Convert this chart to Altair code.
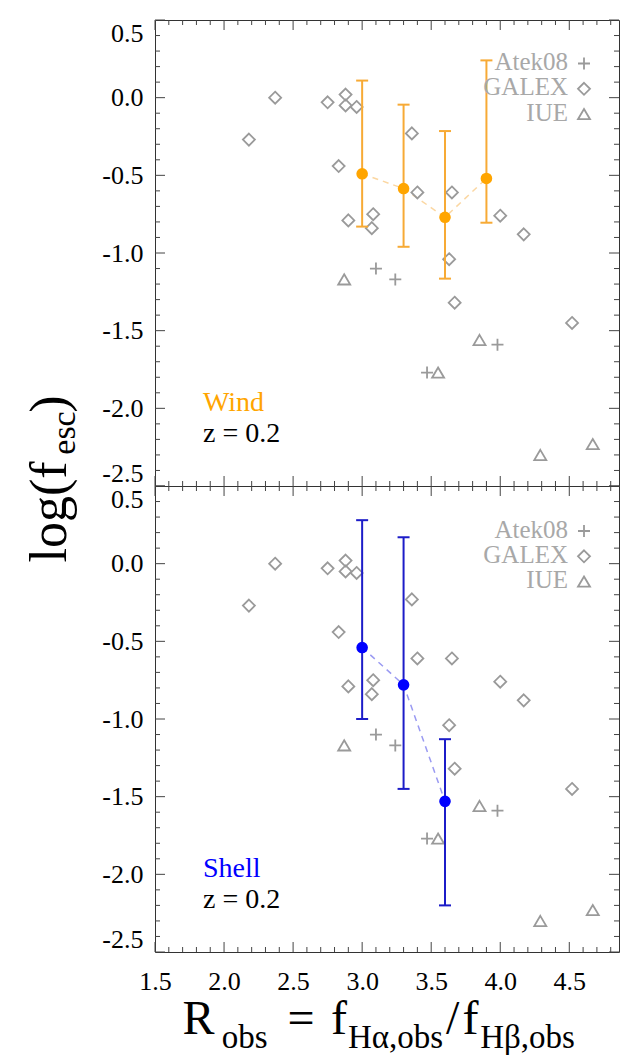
import altair as alt
import pandas as pd

# ---------------- data ----------------
galex_x = [2.18, 2.37, 2.75, 2.88, 2.88, 2.96, 2.83, 3.36, 3.40, 2.90, 3.08, 3.07, 3.65, 3.63, 3.67, 4.00, 4.17, 4.52]
galex_y = [-0.27, 0.00, -0.03, 0.02, -0.05, -0.06, -0.44, -0.23, -0.61, -0.79, -0.75, -0.84, -0.61, -1.04, -1.32, -0.76, -0.88, -1.45]
atek_x = [3.10, 3.24, 3.98, 3.47]
atek_y = [-1.10, -1.17, -1.59, -1.77]
iue_x = [2.87, 3.55, 3.85, 4.29, 4.67]
iue_y = [-1.17, -1.77, -1.56, -2.30, -2.23]

wind_x = [3.0, 3.3, 3.6, 3.9]
wind_y = [-0.49, -0.585, -0.77, -0.52]
wind_lo = [-0.83, -0.96, -1.165, -0.805]
wind_hi = [0.11, -0.045, -0.215, 0.24]

shell_x = [3.0, 3.3, 3.6]
shell_y = [-0.54, -0.78, -1.53]
shell_lo = [-1.0, -1.45, -2.20]
shell_hi = [0.28, 0.17, -1.13]

x_tick_labels = [1.5, 2.0, 2.5, 3.0, 3.5, 4.0, 4.5]
y_tick_labels = [0.5, 0.0, -0.5, -1.0, -1.5, -2.0, -2.5]
x_minor = [v / 10 for v in range(15, 49) if v % 5 != 0]
y_minor = [v / 10 for v in range(-25, 6) if v % 5 != 0]

sources = ["Atek08", "GALEX", "IUE"]
x_title_parts = ["R", "obs", "=", "f", "H\u03b1,obs", "/", "f", "H\u03b2,obs"]
y_title_parts = ["log(f", "esc", ")"]

# ---------------- styling ----------------
FONT = "Liberation Serif"
W, H = 464, 466
GRAY = "#9a9a9a"
GRAY_T = "#a8a8a8"
TICK_C = "#444444"
MAJ, MIN = 10, 5

xs = alt.Scale(domain=[1.5, 4.86], nice=False, zero=False)
ys = alt.Scale(domain=[-2.5, 0.5], nice=False, zero=False)

yaxis = alt.Axis(values=y_tick_labels, format=".1f",
                 labelExpr="replace(datum.label, '\u2212', '-')",
                 labelFlush=True, labelOverlap=False, ticks=False, tickSize=0,
                 domain=False, grid=False, labelFont=FONT, labelFontSize=26,
                 labelColor="black", labelPadding=12, title=None)
xaxis_b = alt.Axis(values=x_tick_labels, format=".1f", labelFlush=False,
                   labelOverlap=False, ticks=False, tickSize=0, domain=False,
                   grid=False, labelFont=FONT, labelFontSize=26,
                   labelColor="black", labelPadding=16, title=None)

PLUS = "M-1,0L1,0M0,-1L0,1"
DIAMOND = "M0,-1L1,0L0,1L-1,0Z"
TRI = "M0,-0.85L1,0.85L-1,0.85Z"
SHAPES = [PLUS, DIAMOND, TRI]


def X(field, axis):
    return alt.X(f"{field}:Q", scale=xs, axis=axis)


def Y(field):
    return alt.Y(f"{field}:Q", scale=ys, axis=yaxis)


def tick_layers(xaxis):
    layers = []
    for vals, L in ((x_tick_labels, MAJ), (x_minor, MIN)):
        d = pd.DataFrame({"x": vals})
        layers.append(alt.Chart(d).mark_rule(color=TICK_C, strokeWidth=1).encode(
            x=X("x", xaxis), y=alt.value(0), y2=alt.value(L)))
        layers.append(alt.Chart(d).mark_rule(color=TICK_C, strokeWidth=1).encode(
            x=X("x", xaxis), y=alt.value(H), y2=alt.value(H - L)))
    for vals, L in ((y_tick_labels, MAJ), (y_minor, MIN)):
        d = pd.DataFrame({"y": vals})
        layers.append(alt.Chart(d).mark_rule(color=TICK_C, strokeWidth=1).encode(
            y=Y("y"), x=alt.value(0), x2=alt.value(L)))
        layers.append(alt.Chart(d).mark_rule(color=TICK_C, strokeWidth=1).encode(
            y=Y("y"), x=alt.value(W), x2=alt.value(W - L)))
    return layers


def text_layer(txt, x, y, size, color, align="left", angle=0):
    return alt.Chart(pd.DataFrame({"t": [txt]})).mark_text(
        align=align, baseline="alphabetic", font=FONT, fontSize=size,
        color=color, angle=angle).encode(text="t:N", x=alt.value(x), y=alt.value(y))


def legend_layers(dy):
    layers = []
    for i, (src, shp) in enumerate(zip(sources, SHAPES)):
        layers.append(text_layer(src, 413, 50 + 25.3 * i + dy, 25, GRAY_T, align="right"))
        layers.append(alt.Chart(pd.DataFrame({"t": [src]})).mark_point(
            shape=shp, filled=False, size=144, strokeWidth=1.8, color=GRAY, opacity=1
        ).encode(x=alt.value(429), y=alt.value(43.5 + 25.3 * i + dy)))
    return layers


def panel(mx, my, mlo, mhi, c_pt, c_bar, c_line, name, xaxis, extra, dy):
    obs = pd.DataFrame({
        "x": galex_x + atek_x + iue_x,
        "y": galex_y + atek_y + iue_y,
        "src": ["GALEX"] * len(galex_x) + ["Atek08"] * len(atek_x) + ["IUE"] * len(iue_x),
    })
    model = pd.DataFrame({"x": mx, "y": my, "lo": mlo, "hi": mhi})
    pts = alt.Chart(obs).mark_point(filled=False, size=144, strokeWidth=1.8,
                                    color=GRAY, opacity=1).encode(
        x=X("x", xaxis), y=Y("y"),
        shape=alt.Shape("src:N", scale=alt.Scale(domain=sources, range=SHAPES),
                        legend=None))
    line = alt.Chart(model).mark_line(color=c_line, strokeWidth=1.5, strokeDash=[6, 5]).encode(
        x=X("x", xaxis), y=Y("y"))
    bars = alt.Chart(model).mark_rule(color=c_bar, strokeWidth=2).encode(
        x=X("x", xaxis), y=Y("lo"), y2="hi:Q")
    cap_lo = alt.Chart(model).mark_tick(color=c_bar, orient="horizontal", size=12,
                                        thickness=2, opacity=1).encode(x=X("x", xaxis), y=Y("lo"))
    cap_hi = alt.Chart(model).mark_tick(color=c_bar, orient="horizontal", size=12,
                                        thickness=2, opacity=1).encode(x=X("x", xaxis), y=Y("hi"))
    dots = alt.Chart(model).mark_circle(color=c_pt, size=135, opacity=1).encode(
        x=X("x", xaxis), y=Y("y"))
    lab1 = text_layer(name, 48, 391, 28, c_pt)
    lab2 = text_layer("z = 0.2", 48, 422, 28, "black")
    layers = (tick_layers(xaxis) + [line, pts, bars, cap_lo, cap_hi, dots, lab1, lab2]
              + legend_layers(dy) + extra)
    return alt.layer(*layers).properties(width=W, height=H)


# y-axis title pieces (rotated), placed in the top panel
ytitle = [
    text_layer(y_title_parts[0], -89, 492, 52, "black", align="center", angle=270),
    text_layer(y_title_parts[1], -80, 413, 34, "black", align="center", angle=270),
    text_layer(y_title_parts[2], -89, 384, 52, "black", align="center", angle=270),
]
# x-axis title pieces, placed in the bottom panel
xt_pos = [43.6, 89.6, 146, 184, 240.6, 297.6, 315.6, 372.6]
xt_sub = [False, True, False, False, True, False, False, True]
xtitle = [
    text_layer(t, px, 562 if s else 548, 33 if s else 48, "black", align="center")
    for t, px, s in zip(x_title_parts, xt_pos, xt_sub)
]

top = panel(wind_x, wind_y, wind_lo, wind_hi, "#ffa500", "#f7aa35", "#fbd7a2",
            "Wind", None, ytitle, 0)
bottom = panel(shell_x, shell_y, shell_lo, shell_hi, "#0000ff", "#1c1cc8", "#9a9af2",
               "Shell", xaxis_b, xtitle, 1.5)

chart = alt.vconcat(top, bottom, spacing=0, bounds="flush").properties(
    padding={"left": 23, "top": 19, "right": 5, "bottom": 5},
    background="white",
).configure_view(stroke="#333333", strokeWidth=1)

chart.save("out.html", embed_options={"renderer": "svg", "actions": False})
